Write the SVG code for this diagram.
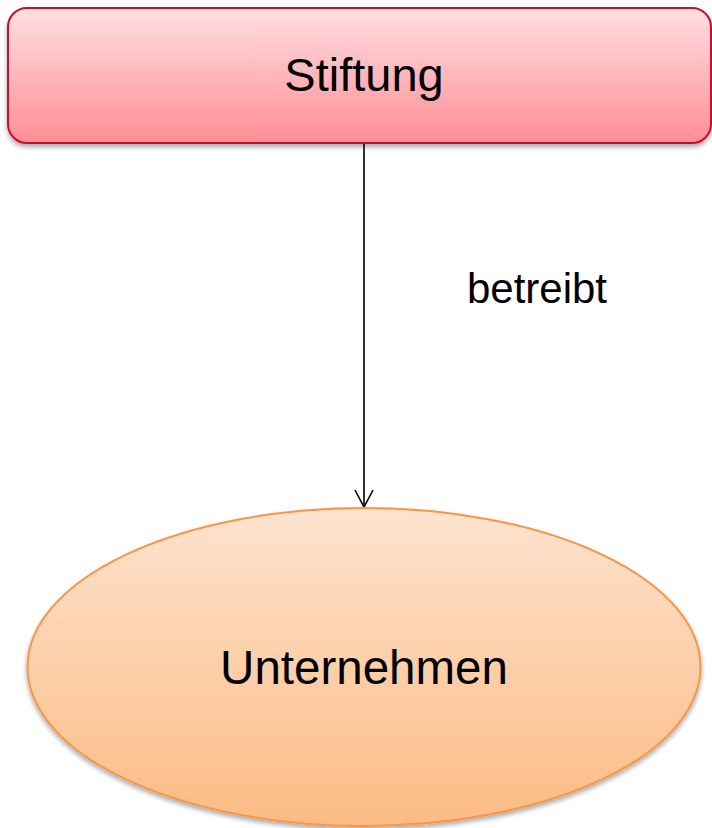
<svg xmlns="http://www.w3.org/2000/svg" width="712" height="828" viewBox="0 0 712 828">
  <defs>
    <linearGradient id="gradRed" x1="0" y1="0" x2="0" y2="1">
      <stop offset="0" stop-color="#ffdfe2"/>
      <stop offset="1" stop-color="#ff8e95"/>
    </linearGradient>
    <linearGradient id="gradOrange" x1="0" y1="0" x2="0" y2="1">
      <stop offset="0" stop-color="#fde3cf"/>
      <stop offset="1" stop-color="#fcbb83"/>
    </linearGradient>
    <filter id="shadow" x="-5%" y="-5%" width="110%" height="115%">
      <feGaussianBlur in="SourceAlpha" stdDeviation="2.5"/>
      <feOffset dx="0" dy="3" result="blur"/>
      <feComponentTransfer><feFuncA type="linear" slope="0.35"/></feComponentTransfer>
      <feMerge><feMergeNode/><feMergeNode in="SourceGraphic"/></feMerge>
    </filter>
    <marker id="openArrow" viewBox="0 0 20 20" refX="18" refY="10" markerWidth="20" markerHeight="20" markerUnits="userSpaceOnUse" orient="auto">
      <path d="M1,1 L18,10 L1,19" fill="none" stroke="#000" stroke-width="1.6"/>
    </marker>
  </defs>
  <style>
    .label { font-family: "Liberation Sans", Arial, sans-serif; fill: #000; text-anchor: middle; }
  </style>
  <rect width="712" height="828" fill="#fff"/>

  <g id="connectors">
    <line x1="364" y1="144" x2="364" y2="507" stroke="#000" stroke-width="1.6" marker-end="url(#openArrow)"/>
    <text class="label" x="537" y="303" font-size="42">betreibt</text>
  </g>

  <g id="node-stiftung">
    <rect x="8" y="8" width="703" height="135" rx="19" ry="19" fill="url(#gradRed)" stroke="#c8102e" stroke-width="2" filter="url(#shadow)"/>
    <text class="label" x="364" y="91" font-size="47">Stiftung</text>
  </g>

  <g id="node-unternehmen">
    <ellipse cx="364" cy="667" rx="336.5" ry="159" fill="url(#gradOrange)" stroke="#f79646" stroke-width="2" filter="url(#shadow)"/>
    <text class="label" x="364" y="684" font-size="47.5">Unternehmen</text>
  </g>
</svg>
